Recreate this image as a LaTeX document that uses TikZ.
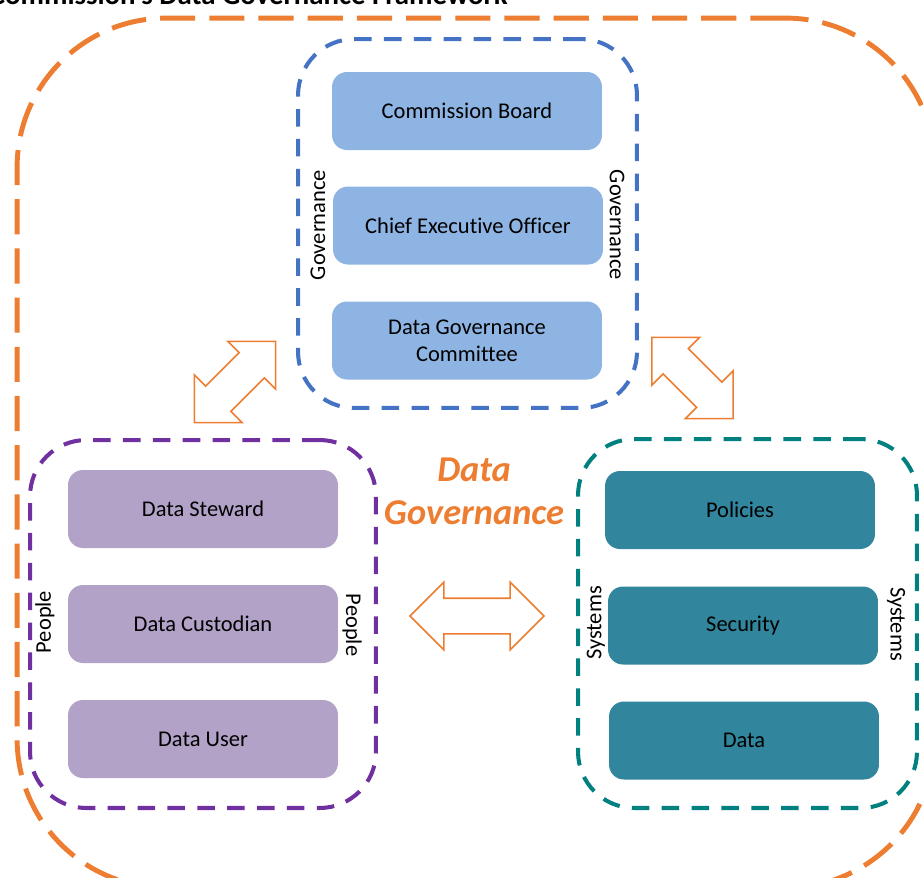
\documentclass[tikz,border=0pt]{standalone}
\usepackage{fontspec}
\setmainfont{Carlito}[Ligatures=NoCommon]
\usepackage{xcolor}
\definecolor{frameOrange}{HTML}{ED7D31}
\definecolor{frameBlue}{HTML}{4472C4}
\definecolor{boxBlue}{HTML}{8EB4E3}
\definecolor{framePurple}{HTML}{7030A0}
\definecolor{boxPurple}{HTML}{B3A2C7}
\definecolor{frameTeal}{HTML}{00807F}
\definecolor{boxTeal}{HTML}{31859C}
\usetikzlibrary{shapes.arrows}

\tikzset{
  group/.style={draw=#1, line width=2.3pt, dash pattern=on 10pt off 7pt, rounded corners=32pt},
  item/.style={fill=#1, rounded corners=8.5pt, minimum width=5.4cm, minimum height=1.56cm, align=center, font=\fontsize{12.8}{15.4}\selectfont},
  side/.style={font=\fontsize{12.8}{15.4}\selectfont},
  link/.style={double arrow, draw=frameOrange, fill=white, line width=0.9pt, inner xsep=0pt, inner ysep=0.34cm, double arrow head extend=0.32cm},
}

\begin{document}
\begin{tikzpicture}[x=0.02cm, y=-0.02cm]
  \useasboundingbox (0,0) rectangle (923,877);
  \node[draw=frameOrange, line width=2.8pt, dash pattern=on 20pt off 8pt, rounded corners=85pt, minimum width=18.36cm, minimum height=17.4cm] (outer) at (476,453) {};
  \node[font=\fontsize{16.4}{19}\selectfont\bfseries, anchor=base east] (title) at (514,4.5) {Commission's Data Governance Framework};

  % governance group
  \node[group=frameBlue, minimum width=6.78cm, minimum height=7.38cm] (gov) at (467.5,223.5) {};
  \node[item=boxBlue] (board) at (467,111) {Commission Board};
  \node[item=boxBlue] (ceo) at (468,225.5) {Chief Executive Officer};
  \node[item=boxBlue] (dgc) at (467,340.5) {Data Governance\\Committee};
  \node[side, rotate=90] (govL) at (318,225) {Governance};
  \node[side, rotate=-90] (govR) at (617,225) {Governance};

  % people group
  \node[group=framePurple, minimum width=6.92cm, minimum height=7.36cm] (ppl) at (203,624) {};
  \node[item=boxPurple] (steward) at (203,509) {Data Steward};
  \node[item=boxPurple] (custodian) at (203,624) {Data Custodian};
  \node[item=boxPurple] (user) at (203,739) {Data User};
  \node[side, rotate=90] (pplL) at (45,622) {People};
  \node[side, rotate=-90] (pplR) at (352,625) {People};

  % systems group
  \node[group=frameTeal, minimum width=6.78cm, minimum height=7.38cm] (sys) at (747.5,623.5) {};
  \node[item=boxTeal] (policies) at (740,510) {Policies};
  \node[item=boxTeal] (security) at (743,625.5) {Security};
  \node[item=boxTeal] (data) at (744,740.5) {Data};
  \node[side, rotate=90] (sysL) at (596,623) {Systems};
  \node[side, rotate=-90] (sysR) at (896,624) {Systems};

  \node[font=\fontsize{20.7}{24.5}\selectfont\bfseries\itshape, text=frameOrange, align=center] (dg) at (474,491.5) {Data\\Governance};

  % double arrows between the groups
  \node[link, rotate=45, minimum height=2.3cm] (pplGov) at (235,382) {};
  \node[link, rotate=-45, minimum height=2.3cm] (govSys) at (692.5,378) {};
  \node[link, minimum height=2.68cm] (pplSys) at (477,616) {};
\end{tikzpicture}
\end{document}
